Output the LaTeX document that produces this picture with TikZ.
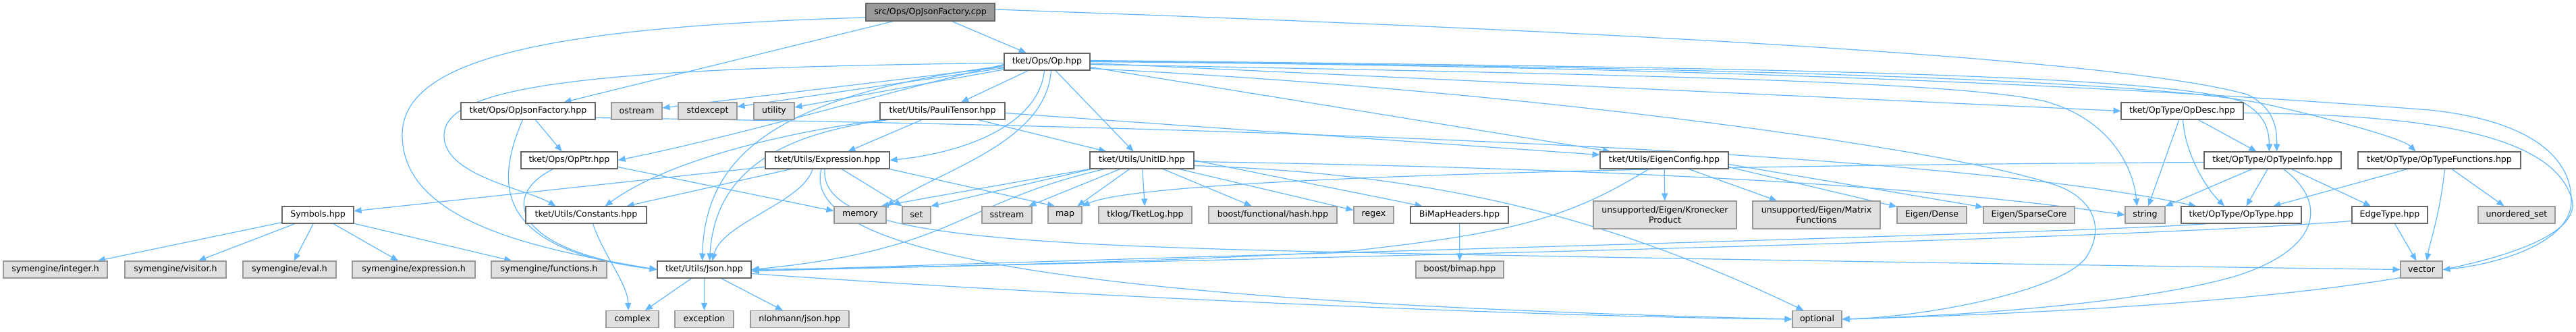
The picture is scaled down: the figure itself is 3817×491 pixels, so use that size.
\documentclass[tikz,border=0pt]{standalone}
\usepackage{fontspec}
\setmainfont{DejaVu Sans}
\usetikzlibrary{arrows.meta}
\definecolor{eb}{HTML}{63B8FF}
\definecolor{nborder}{HTML}{666666}
\definecolor{gborder}{HTML}{999999}
\definecolor{gfill}{HTML}{E0E0E0}
\definecolor{cppfill}{HTML}{999999}
\pgfdeclarelayer{bg}
\pgfdeclarelayer{paper}
\pgfsetlayers{paper,bg,main}
\begin{document}
\begin{tikzpicture}[x=1pt,y=-1pt,
  nd/.style={draw=nborder, line width=1.1pt, fill=white, inner sep=0pt, minimum height=25,
    font=\fontsize{12.6}{15}\selectfont, align=center, text=black},
  ext/.style={nd, draw=gborder, fill=gfill},
  top/.style={nd, fill=cppfill},
  dep/.style={draw=eb, line width=1.2pt, -{Triangle[length=11pt,width=9pt]}},
]
\begin{pgfonlayer}{paper}
\fill[white] (0,0) rectangle (3817,491);
\end{pgfonlayer}
\useasboundingbox (0,0) rectangle (3817,491);

% row 0-1
\node[top, minimum width=191, minimum height=26] (cpp) at (1378.5,18) {src/Ops/OpJsonFactory.cpp};
\node[nd, minimum width=127] (op) at (1551.5,91.5) {tket/Ops/Op.hpp};
% row 2
\node[nd, minimum width=199] (ojfh) at (782.5,164.5) {tket/Ops/OpJsonFactory.hpp};
\node[ext, minimum width=75] (ostream) at (943.5,164.5) {ostream};
\node[ext, minimum width=87] (stdexcept) at (1048.5,164.5) {stdexcept};
\node[ext, minimum width=60] (utility) at (1147,164.5) {utility};
\node[nd, minimum width=185] (pauli) at (1396.5,164.5) {tket/Utils/PauliTensor.hpp};
\node[nd, minimum width=181] (opdesc) at (3233.5,164.5) {tket/OpType/OpDesc.hpp};
% row 3
\node[nd, minimum width=143] (opptr) at (843.5,237.5) {tket/Ops/OpPtr.hpp};
\node[nd, minimum width=184] (expr) at (1226,237.5) {tket/Utils/Expression.hpp};
\node[nd, minimum width=154] (unitid) at (1692,237.5) {tket/Utils/UnitID.hpp};
\node[nd, minimum width=190] (eigen) at (2466,237.5) {tket/Utils/EigenConfig.hpp};
\node[nd, minimum width=203] (optypeinfo) at (3367.5,237.5) {tket/OpType/OpTypeInfo.hpp};
\node[nd, minimum width=241] (optypefunc) at (3614.5,237.5) {tket/OpType/OpTypeFunctions.hpp};
% row 4
\node[nd, minimum width=106] (symbols) at (471,318.5) {Symbols.hpp};
\node[nd, minimum width=179] (constants) at (868.5,318.5) {tket/Utils/Constants.hpp};
\node[ext, minimum width=77] (memory) at (1274.5,318.5) {memory};
\node[ext, minimum width=42] (set) at (1358,318.5) {set};
\node[ext, minimum width=74] (sstream) at (1492,318.5) {sstream};
\node[ext, minimum width=50] (map) at (1578,318.5) {map};
\node[ext, minimum width=138] (tklog) at (1697,318.5) {tklog/TketLog.hpp};
\node[ext, minimum width=190] (bhash) at (1886,318.5) {boost/functional/hash.hpp};
\node[ext, minimum width=59] (regex) at (2035.5,318.5) {regex};
\node[nd, minimum width=145] (bimaph) at (2162.5,318.5) {BiMapHeaders.hpp};
\node[ext, minimum width=212, minimum height=41] (kron) at (2467,318.5) {unsupported/Eigen/Kronecker\\Product};
\node[ext, minimum width=189, minimum height=41] (matf) at (2691.5,318.5) {unsupported/Eigen/Matrix\\Functions};
\node[ext, minimum width=103] (dense) at (2862.5,318.5) {Eigen/Dense};
\node[ext, minimum width=135] (sparse) at (3006.5,318.5) {Eigen/SparseCore};
\node[ext, minimum width=59] (string) at (3178.5,318.5) {string};
\node[nd, minimum width=178] (optype) at (3321,318.5) {tket/OpType/OpType.hpp};
\node[nd, minimum width=112] (edgetype) at (3541,318.5) {EdgeType.hpp};
\node[ext, minimum width=114] (uset) at (3729,318.5) {unordered\_set};
% row 5
\node[ext, minimum width=154] (seint) at (82,399.5) {symengine/integer.h};
\node[ext, minimum width=150] (sevis) at (260,399.5) {symengine/visitor.h};
\node[ext, minimum width=138] (seeval) at (429,399.5) {symengine/eval.h};
\node[ext, minimum width=182] (seexpr) at (613,399.5) {symengine/expression.h};
\node[ext, minimum width=171] (sefunc) at (813.5,399.5) {symengine/functions.h};
\node[nd, minimum width=139] (json) at (1043.5,399.5) {tket/Utils/Json.hpp};
\node[ext, minimum width=130] (bimap) at (2163,399.5) {boost/bimap.hpp};
\node[ext, minimum width=62] (vector) at (3588,399.5) {vector};
% row 6
\node[ext, minimum width=78] (complex) at (937,473) {complex};
\node[ext, minimum width=87] (exception) at (1043.5,473) {exception};
\node[ext, minimum width=146] (nlohmann) at (1185,473) {nlohmann/json.hpp};
\node[ext, minimum width=73] (optional) at (2692.5,473) {optional};

\begin{pgfonlayer}{bg}
% cpp
\draw[dep] (cpp) -- (op);
\draw[dep] (cpp) -- (ojfh);
\draw[dep] ([yshift=-8]cpp.west) .. controls (800,40) and (596,90) .. (596,200) .. controls (596,330) and (800,370) .. (json.west);
\draw[dep] ([yshift=4]cpp.east) .. controls (2500,50) and (3150,90) .. (3330,140) .. controls (3370,160) and (3374,190) .. ([xshift=6]optypeinfo.north);
% ojfh
\draw[dep] (ojfh) -- (opptr);
\draw[dep] ([xshift=-8]ojfh.south) .. controls (730,280) and (740,370) .. (json.west);
\draw[dep] ([yshift=-10]ojfh.east) .. controls (2000,190) and (2900,230) .. ([xshift=-67]optype.north);
% op
\draw[dep] (op) -- (ostream);
\draw[dep] (op) -- (stdexcept);
\draw[dep] (op) -- (utility);
\draw[dep] (op) -- (pauli);
\draw[dep] (op) -- (unitid);
\draw[dep] ([xshift=-4]op.south) .. controls (1540,180) and (1440,225) .. (expr.east);
\draw[dep] ([xshift=6]op.south) .. controls (1550,210) and (1400,250) .. (memory.north east);
\draw[dep] ([yshift=-4]op.west) .. controls (1300,140) and (1100,200) .. (opptr.east);
\draw[dep] ([yshift=-6]op.west) .. controls (1150,140) and (1045,230) .. ([xshift=-3]json.north);
\draw[dep] ([yshift=-2]op.west) .. controls (850,100) and (660,130) .. (658,200) .. controls (656,260) and (780,280) .. ([xshift=-45]constants.north);
\draw[dep] ([yshift=-8]op.east) -- ([xshift=-80]eigen.north);
\draw[dep] ([yshift=-2]op.east) -- (opdesc.west);
\draw[dep] ([yshift=2]op.east) .. controls (2600,100) and (3200,110) .. (3320,150) .. controls (3355,168) and (3362,190) .. ([xshift=-5]optypeinfo.north);
\draw[dep] ([yshift=1]op.east) .. controls (2600,100) and (3200,120) .. (3360,155) .. controls (3450,175) and (3560,205) .. ([xshift=-35]optypefunc.north);
\draw[dep] ([yshift=-4]op.east) .. controls (2400,110) and (2900,120) .. (3030,150) .. controls (3120,175) and (3160,240) .. ([xshift=-12]string.north);
\draw[dep] ([yshift=-10]op.east) .. controls (2300,135) and (2950,230) .. (3060,280) .. controls (3110,305) and (3112,345) .. (3095,375) .. controls (3070,430) and (2850,470) .. (optional.east);
\draw[dep] (op.east) .. controls (2700,100) and (3300,140) .. (3600,163) .. controls (3760,180) and (3812,240) .. (3810,300) .. controls (3808,360) and (3700,392) .. (vector.east);
% pauli
\draw[dep] (pauli) -- (expr);
\draw[dep] (pauli) -- (unitid);
\draw[dep] ([yshift=-3]pauli.east) -- ([yshift=8]eigen.west);
\draw[dep] ([xshift=-85]pauli.south) .. controls (1200,190) and (1000,230) .. ([xshift=28]constants.north);
\draw[dep] ([xshift=-80]pauli.south) .. controls (1180,195) and (1060,240) .. ([xshift=8]json.north);
% expr
\draw[dep] (expr) -- (symbols);
\draw[dep] ([xshift=-54]expr.south) -- ([xshift=60]constants.north);
\draw[dep] ([xshift=-22]expr.south) .. controls (1190,300) and (1070,330) .. ([xshift=12]json.north);
\draw[dep] (expr) -- (set);
\draw[dep] (expr.south east) -- ([xshift=-15]map.north);
\draw[dep] ([xshift=-9]expr.south) .. controls (1180,390) and (1700,450) .. (optional.west);
\draw[dep] ([xshift=-4]expr.south) .. controls (1215,345) and (1450,362) .. (2000,374) .. controls (2600,386) and (3300,396) .. (vector.west);
% unitid
\draw[dep] (unitid.south west) -- ([xshift=-8]memory.north east);
\draw[dep] ([xshift=3]unitid.south west) -- (set.north east);
\draw[dep] (unitid) -- (sstream);
\draw[dep] (unitid) -- (map);
\draw[dep] (unitid) -- (tklog);
\draw[dep] (unitid) -- (bhash);
\draw[dep] ([xshift=-55]unitid.south) .. controls (1420,300) and (1420,370) .. (json.east);
\draw[dep] (unitid) -- (regex);
\draw[dep] (unitid.east) -- ([xshift=-55]bimaph.north);
\draw[dep] ([yshift=-2]unitid.east) .. controls (2300,248) and (2800,268) .. (string.west);
\draw[dep] ([yshift=-8]unitid.east) .. controls (2150,258) and (2400,330) .. ([xshift=-20]optional.north);
% eigen
\draw[dep] (eigen) -- (kron);
\draw[dep] (eigen) -- (matf);
\draw[dep] ([yshift=-10]eigen.east) -- (dense);
\draw[dep] ([yshift=-6]eigen.east) -- (sparse);
\draw[dep] ([xshift=-23]eigen.south) .. controls (2330,320) and (2250,345) .. (2000,372) .. controls (1700,390) and (1300,397) .. (json.east);
% opdesc
\draw[dep] (opdesc) -- (string);
\draw[dep] ([xshift=1]opdesc.south) .. controls (3238,230) and (3270,280) .. ([xshift=-25]optype.north);
\draw[dep] (opdesc) -- (optypeinfo);
\draw[dep] ([yshift=-3]opdesc.east) .. controls (3600,170) and (3790,200) .. (3812,300) .. controls (3822,420) and (3200,460) .. (optional.east);
% optypeinfo
\draw[dep] (optypeinfo) -- (string);
\draw[dep] (optypeinfo) -- (optype);
\draw[dep] (optypeinfo) -- (edgetype);
\draw[dep] ([xshift=16]optypeinfo.south) .. controls (3450,300) and (3440,370) .. (3310,410) .. controls (3150,455) and (2850,470) .. (optional.east);
\draw[dep] ([yshift=-3]optypeinfo.west) .. controls (2500,245) and (1700,262) .. (map.north east);
% optypefunc
\draw[dep] (optypefunc) -- (optype);
\draw[dep] ([xshift=8]optypefunc.south) .. controls (3615,320) and (3600,360) .. ([xshift=8]vector.north);
\draw[dep] (optypefunc) -- (uset);
% edgetype, optype
\draw[dep] (edgetype) -- (vector);
\draw[dep] ([yshift=-9]edgetype.west) .. controls (3100,358) and (1800,385) .. ([yshift=-2]json.east);
\draw[dep] ([xshift=-50]optype.south) .. controls (3100,345) and (1800,378) .. ([yshift=-2]json.east);
% json
\draw[dep] (json) -- (complex);
\draw[dep] (json) -- (exception);
\draw[dep] (json) -- (nlohmann);
\draw[dep] ([yshift=-6]json.east) .. controls (1600,440) and (2300,470) .. (optional.west);
% constants, opptr
\draw[dep] ([xshift=10]constants.south) .. controls (895,380) and (930,420) .. ([xshift=-6]complex.north);
\draw[dep] ([xshift=-24]opptr.south) .. controls (740,290) and (760,370) .. (json.west);
\draw[dep] ([yshift=-10]opptr.east) -- ([yshift=6]memory.west);
% symbols
\draw[dep] (symbols) -- (seint);
\draw[dep] (symbols) -- (sevis);
\draw[dep] (symbols) -- (seeval);
\draw[dep] (symbols) -- (seexpr);
\draw[dep] (symbols) -- (sefunc);
% bimap
\draw[dep] (bimaph) -- (bimap);
\end{pgfonlayer}
\end{tikzpicture}
\end{document}
